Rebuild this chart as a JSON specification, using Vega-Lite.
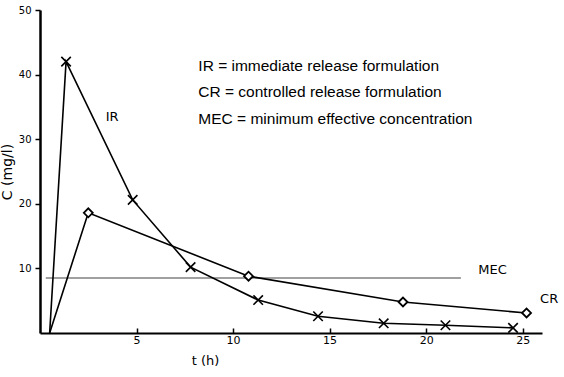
{
  "$schema": "https://vega.github.io/schema/vega-lite/v6.json",
  "autosize": {"type": "none"},
  "padding": {"left": 40, "top": 10, "right": 22, "bottom": 44},
  "width": 502,
  "height": 323,
  "background": "white",
  "config": {"view": {"stroke": null}},
  "datasets": {
    "curves": [
      {"series": "IR", "t": 0.5, "C": 0},
      {"series": "IR", "t": 1.35, "C": 42},
      {"series": "IR", "t": 4.8, "C": 20.6},
      {"series": "IR", "t": 7.8, "C": 10.2},
      {"series": "IR", "t": 11.3, "C": 5.1},
      {"series": "IR", "t": 14.4, "C": 2.6},
      {"series": "IR", "t": 17.8, "C": 1.5},
      {"series": "IR", "t": 21.0, "C": 1.2},
      {"series": "IR", "t": 24.5, "C": 0.8},
      {"series": "CR", "t": 0.5, "C": 0},
      {"series": "CR", "t": 2.5, "C": 18.6},
      {"series": "CR", "t": 10.8, "C": 8.8},
      {"series": "CR", "t": 18.8, "C": 4.8},
      {"series": "CR", "t": 25.2, "C": 3.1}
    ],
    "mec": [
      {"t": 0.3, "C": 8.5},
      {"t": 21.8, "C": 8.5}
    ],
    "labels": [
      {"label": "IR", "t": 3.4, "C": 33.5},
      {"label": "CR", "t": 25.9, "C": 5.2},
      {"label": "MEC", "t": 22.7, "C": 9.8}
    ],
    "legend": [
      {"label": "IR = immediate release formulation", "t": 8.2, "C": 41.4},
      {"label": "CR = controlled release formulation", "t": 8.2, "C": 37.3},
      {"label": "MEC = minimum effective concentration", "t": 8.2, "C": 33.2}
    ]
  },
  "layer": [
    {
      "data": {"name": "mec"},
      "mark": {"type": "line", "color": "#808080", "strokeWidth": 1.5},
      "encoding": {
        "x": {"field": "t", "type": "quantitative", "scale": {"domain": [0, 26]},
          "axis": {"values": [5, 10, 15, 20, 25], "grid": false, "domainColor": "black", "domainWidth": 2, "tickColor": "black", "tickSize": -5, "tickWidth": 1.5, "labelFont": "DejaVu Sans", "labelFontSize": 11, "labelColor": "black", "labelPadding": 6, "title": "t (h)", "titleFont": "DejaVu Sans", "titleFontSize": 13, "titleFontWeight": "normal", "titleX": 165, "titleY": 21, "titleBaseline": "top"}},
        "y": {"field": "C", "type": "quantitative", "scale": {"domain": [0, 50]},
          "axis": {"values": [10, 20, 30, 40, 50], "grid": false, "domainColor": "black", "domainWidth": 2.5, "tickColor": "black", "tickSize": 5, "tickWidth": 1.5, "labelFont": "DejaVu Sans", "labelFontSize": 10, "labelColor": "black", "labelPadding": 4, "title": "C (mg/l)", "titleFont": "DejaVu Sans", "titleFontSize": 14, "titleFontWeight": "normal", "titlePadding": 4}}
      }
    },
    {
      "data": {"name": "curves"},
      "mark": {"type": "line", "strokeWidth": 1.6},
      "encoding": {
        "x": {"field": "t", "type": "quantitative"},
        "y": {"field": "C", "type": "quantitative"},
        "detail": {"field": "series"},
        "color": {"value": "black"}
      }
    },
    {
      "data": {"name": "curves"},
      "transform": [{"filter": "datum.series === 'IR' && datum.C > 0"}],
      "mark": {"type": "point", "shape": "M-1,-1L1,1M-1,1L1,-1", "filled": false, "stroke": "black", "strokeWidth": 1.6, "size": 90, "opacity": 1},
      "encoding": {
        "x": {"field": "t", "type": "quantitative"},
        "y": {"field": "C", "type": "quantitative"}
      }
    },
    {
      "data": {"name": "curves"},
      "transform": [{"filter": "datum.series === 'CR' && datum.C > 0"}],
      "mark": {"type": "point", "shape": "diamond", "filled": true, "fill": "white", "stroke": "black", "strokeWidth": 1.8, "size": 80, "opacity": 1},
      "encoding": {
        "x": {"field": "t", "type": "quantitative"},
        "y": {"field": "C", "type": "quantitative"}
      }
    },
    {
      "data": {"name": "labels"},
      "mark": {"type": "text", "align": "left", "baseline": "middle", "font": "DejaVu Sans", "fontSize": 13, "color": "black"},
      "encoding": {
        "x": {"field": "t", "type": "quantitative"},
        "y": {"field": "C", "type": "quantitative"},
        "text": {"field": "label"}
      }
    },
    {
      "data": {"name": "legend"},
      "mark": {"type": "text", "align": "left", "baseline": "middle", "font": "Liberation Sans", "fontSize": 15.5, "color": "black"},
      "encoding": {
        "x": {"field": "t", "type": "quantitative"},
        "y": {"field": "C", "type": "quantitative"},
        "text": {"field": "label"}
      }
    }
  ]
}
